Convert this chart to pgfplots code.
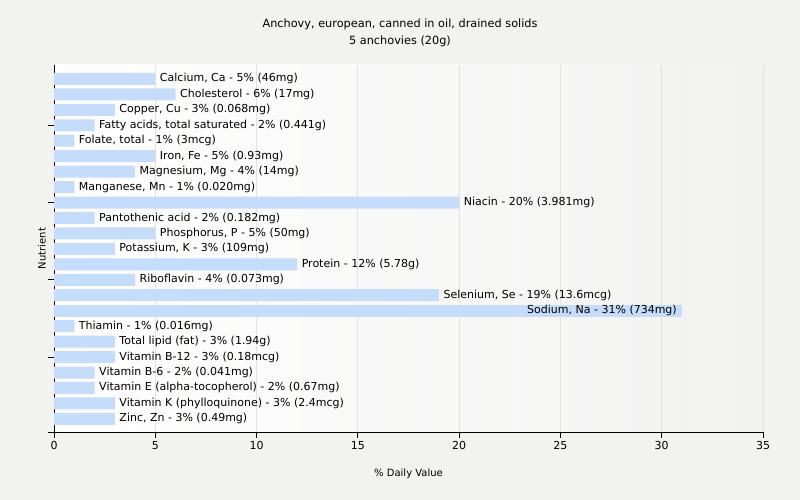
\documentclass[border=0pt]{standalone}
\usepackage{pgfplots}
\pgfplotsset{compat=1.18}
\usepackage{fontspec}
\setmainfont{DejaVu Sans}
\definecolor{barblue}{RGB}{197,220,250}
\definecolor{bggray}{RGB}{242,242,241}
\definecolor{gridgray}{RGB}{226,226,226}

\begin{document}
\begin{tikzpicture}
\useasboundingbox[fill=bggray] (0,0) rectangle (800bp,500bp);
\node[align=center, font=\fontsize{11.3bp}{17bp}\selectfont] at (400bp,467bp)
  {Anchovy, european, canned in oil, drained solids\\5 anchovies (20g)};
\begin{axis}[
  at={(54bp,68bp)}, anchor=south west,
  width=709bp, height=367bp, scale only axis,
  xbar, bar width=12bp, bar shift=0pt,
  xmin=0, xmax=35, ymin=-0.85, ymax=22.9,
  xtick={0,5,...,35}, ytick={-0.85,4,9,14,19}, yticklabels={},
  axis x line*=bottom, axis y line*=left,
  axis line style={-, black, line width=0.8bp},
  tick style={black, line width=0.8bp},
  tick align=outside, major tick length=6bp,
  xmajorgrids, grid style={gridgray, line width=0.8bp},
  axis background/.style={left color=white, right color=bggray},
  ticklabel style={font=\fontsize{11bp}{12bp}\selectfont},
  /pgf/number format/assume math mode=true,
  xlabel={\% Daily Value}, ylabel={Nutrient},
  label style={font=\fontsize{10bp}{12bp}\selectfont},
  xlabel style={at={(axis description cs:0.5,-0.114)}, anchor=center},
  ylabel style={at={(axis description cs:-0.017,0.5)}, anchor=center},
  clip=false,
  nodes near coords, point meta=explicit symbolic,
  every node near coord/.append style={font=\fontsize{11bp}{12bp}\selectfont,
    text=black, anchor=west, inner sep=0pt, xshift=4.5bp},
]
\addplot[draw=none, fill=barblue] coordinates {
  (5,22) [Calcium, Ca - 5\% (46mg)]
  (6,21) [Cholesterol - 6\% (17mg)]
  (3,20) [Copper, Cu - 3\% (0.068mg)]
  (2,19) [Fatty acids, total saturated - 2\% (0.441g)]
  (1,18) [Folate, total - 1\% (3mcg)]
  (5,17) [Iron, Fe - 5\% (0.93mg)]
  (4,16) [Magnesium, Mg - 4\% (14mg)]
  (1,15) [Manganese, Mn - 1\% (0.020mg)]
  (20,14) [Niacin - 20\% (3.981mg)]
  (2,13) [Pantothenic acid - 2\% (0.182mg)]
  (5,12) [Phosphorus, P - 5\% (50mg)]
  (3,11) [Potassium, K - 3\% (109mg)]
  (12,10) [Protein - 12\% (5.78g)]
  (4,9) [Riboflavin - 4\% (0.073mg)]
  (19,8) [Selenium, Se - 19\% (13.6mcg)]
  (1,6) [Thiamin - 1\% (0.016mg)]
  (3,5) [Total lipid (fat) - 3\% (1.94g)]
  (3,4) [Vitamin B-12 - 3\% (0.18mcg)]
  (2,3) [Vitamin B-6 - 2\% (0.041mg)]
  (2,2) [Vitamin E (alpha-tocopherol) - 2\% (0.67mg)]
  (3,1) [Vitamin K (phylloquinone) - 3\% (2.4mcg)]
  (3,0) [Zinc, Zn - 3\% (0.49mg)]
};
\addplot[draw=none, fill=barblue,
  every node near coord/.append style={anchor=east, xshift=-9.5bp}] coordinates {
  (31,7) [Sodium, Na - 31\% (734mg)]
};
\end{axis}
\end{tikzpicture}
\end{document}
